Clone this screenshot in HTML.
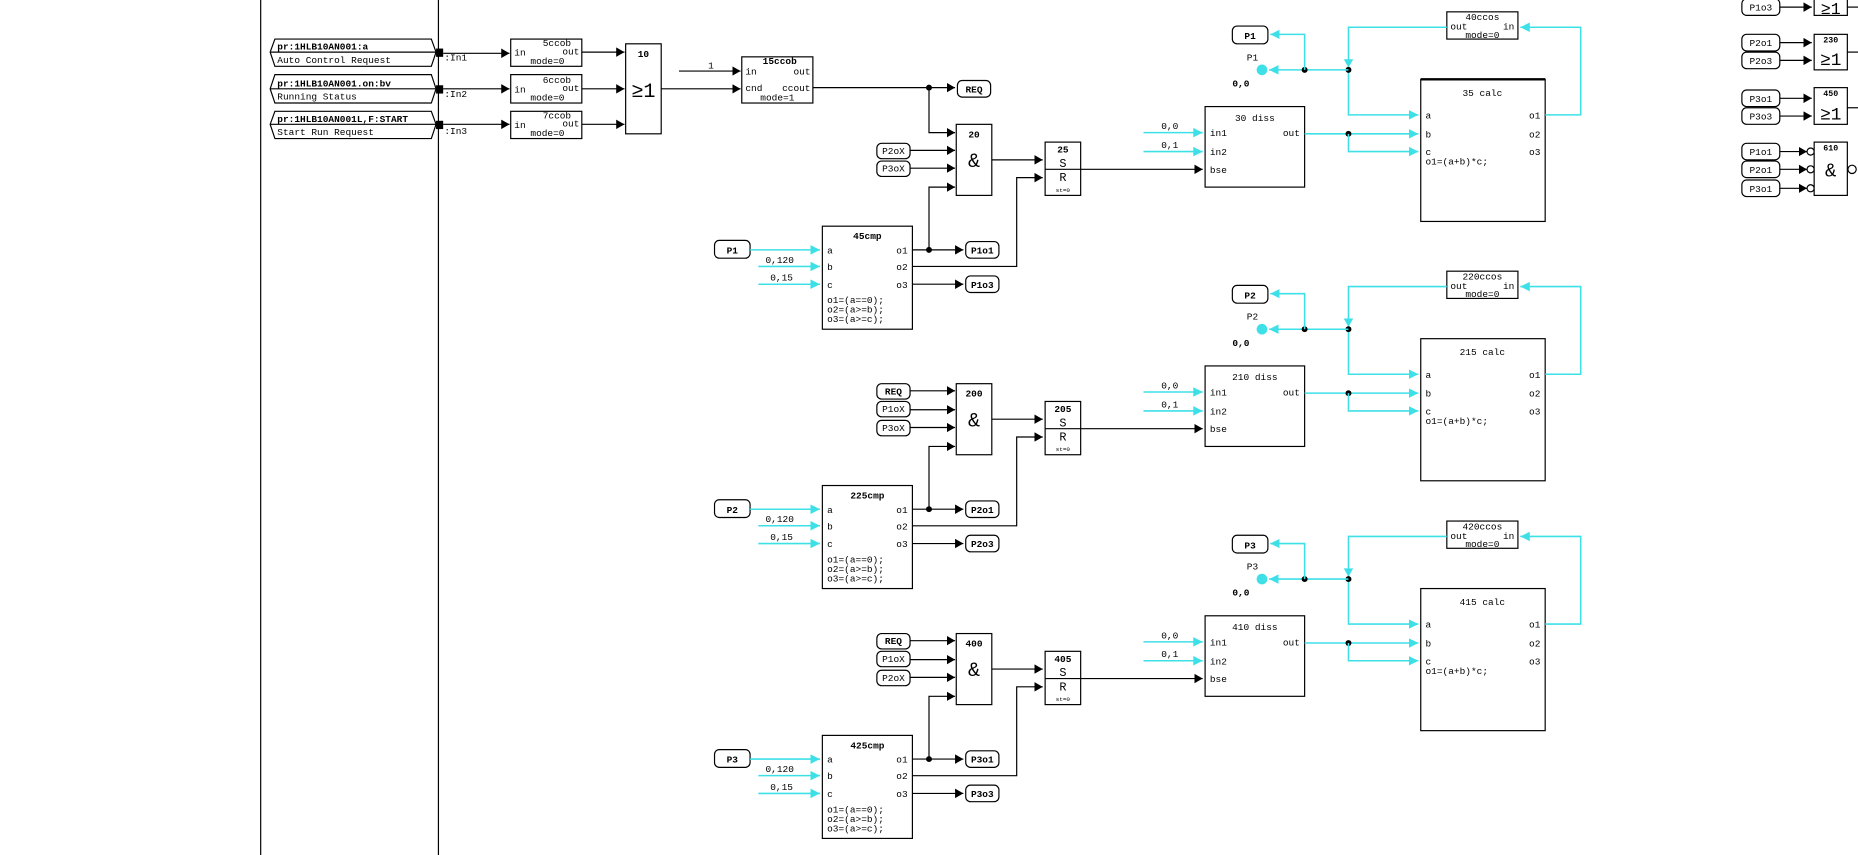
<!DOCTYPE html>
<html><head><meta charset="utf-8"><style>
html,body{margin:0;padding:0;background:#fff;}
svg{display:block;}
text{font-family:"Liberation Mono",monospace;font-size:8px;fill:#000;}
.b{font-weight:bold;}
.c{text-anchor:middle;}
.r{text-anchor:end;}
.k{stroke:#000;stroke-width:1;fill:none;}
.y{stroke:#3ee0e8;stroke-width:1.3;fill:none;}
.bx{stroke:#000;stroke-width:1;fill:#fff;}
.tg{stroke:#000;stroke-width:1;fill:#fff;}
</style></head><body>
<svg width="1858" height="855" viewBox="0 0 1568 722" preserveAspectRatio="none" xmlns="http://www.w3.org/2000/svg">
<defs>
<marker id="ak" markerUnits="userSpaceOnUse" markerWidth="8" markerHeight="8" refX="7" refY="4" orient="auto"><path d="M0,0 L7,4 L0,8 z" fill="#000"/></marker>
<marker id="ay" markerUnits="userSpaceOnUse" markerWidth="9" markerHeight="8" refX="8" refY="4" orient="auto"><path d="M0,0 L8,4 L0,8 z" fill="#3ee0e8"/></marker>
</defs>
<rect width="1568" height="722" fill="#fff"/>
<line x1="220" y1="0" x2="220" y2="722" class="k"/>
<line x1="370" y1="0" x2="370" y2="722" class="k"/>

<!-- input tags -->
<g>
<path d="M232,33 L364,33 L368,44 L364,56 L232,56 L228,44 Z" class="tg"/><line x1="228" y1="44" x2="368" y2="44" class="k"/>
<text x="234" y="42" class="b">pr:1HLB10AN001:a</text><text x="234" y="53">Auto Control Request</text>
<path d="M232,63 L364,63 L368,75 L364,87 L232,87 L228,75 Z" class="tg"/><line x1="228" y1="75" x2="368" y2="75" class="k"/>
<text x="234" y="73" class="b">pr:1HLB10AN001.on:bv</text><text x="234" y="84">Running Status</text>
<path d="M232,94 L364,94 L368,105 L364,117 L232,117 L228,105 Z" class="tg"/><line x1="228" y1="105" x2="368" y2="105" class="k"/>
<text x="234" y="103" class="b">pr:1HLB10AN001L,F:START</text><text x="234" y="114">Start Run Request</text>
<rect x="368" y="41" width="6" height="7" fill="#000"/><rect x="368" y="72" width="6" height="7" fill="#000"/><rect x="368" y="102" width="6" height="7" fill="#000"/>
<text x="375" y="51">:In1</text><text x="375" y="82">:In2</text><text x="375" y="113">:In3</text>
<line x1="374" y1="45" x2="430" y2="45" class="k" marker-end="url(#ak)"/>
<line x1="374" y1="75" x2="430" y2="75" class="k" marker-end="url(#ak)"/>
<line x1="374" y1="105" x2="430" y2="105" class="k" marker-end="url(#ak)"/>
<rect x="431" y="33" width="60" height="23" class="bx"/><text x="470" y="39" class="c">5ccob</text><text x="434" y="47">in</text><text x="489" y="46" class="r">out</text><text x="462" y="54" class="c">mode=0</text>
<rect x="431" y="63" width="60" height="24" class="bx"/><text x="470" y="70" class="c">6ccob</text><text x="434" y="78">in</text><text x="489" y="77" class="r">out</text><text x="462" y="85" class="c">mode=0</text>
<rect x="431" y="94" width="60" height="23" class="bx"/><text x="470" y="100" class="c">7ccob</text><text x="434" y="108">in</text><text x="489" y="107" class="r">out</text><text x="462" y="115" class="c">mode=0</text>
<line x1="491" y1="44" x2="527" y2="44" class="k" marker-end="url(#ak)"/>
<line x1="491" y1="75" x2="527" y2="75" class="k" marker-end="url(#ak)"/>
<line x1="491" y1="105" x2="527" y2="105" class="k" marker-end="url(#ak)"/>
<rect x="528" y="37" width="30" height="76" class="bx"/><text x="543" y="48" class="c b">10</text><text x="543" y="82" class="c" style="font-size:17px">≥1</text>
<line x1="558" y1="75" x2="625" y2="75" class="k" marker-end="url(#ak)"/>
<line x1="573" y1="60" x2="625" y2="60" class="k" marker-end="url(#ak)"/><text x="600" y="58" class="c">1</text>
<rect x="626" y="48" width="60" height="39" class="bx"/><text x="658" y="54" class="c b">15ccob</text><text x="629" y="63">in</text><text x="684" y="63" class="r">out</text><text x="629" y="77">cnd</text><text x="684" y="77" class="r">ccout</text><text x="656" y="85" class="c">mode=1</text>
<line x1="686" y1="74" x2="806" y2="74" class="k" marker-end="url(#ak)"/>
<rect x="808" y="68" width="28" height="14" rx="4" class="tg"/><text x="822" y="78" class="c b">REQ</text>
<circle cx="784" cy="74" r="2.5" fill="#000"/>
<polyline points="784,74 784,112 806,112" class="k" marker-end="url(#ak)"/>
<line x1="768" y1="127" x2="806" y2="127" class="k" marker-end="url(#ak)"/>
<line x1="768" y1="142" x2="806" y2="142" class="k" marker-end="url(#ak)"/>
<rect x="740" y="121" width="28" height="13" rx="4" class="tg"/><text x="754" y="130" class="c">P2oX</text>
<rect x="740" y="136" width="28" height="13" rx="4" class="tg"/><text x="754" y="145" class="c">P3oX</text>
</g>

<!-- row 2 / 3 specific tags -->
<g>
<rect x="740" y="324" width="28" height="13" rx="4" class="tg"/><text x="754" y="333" class="c b">REQ</text>
<rect x="740" y="339" width="28" height="13" rx="4" class="tg"/><text x="754" y="348" class="c">P1oX</text>
<rect x="740" y="355" width="28" height="13" rx="4" class="tg"/><text x="754" y="364" class="c">P3oX</text>
<line x1="768" y1="330" x2="806" y2="330" class="k" marker-end="url(#ak)"/>
<line x1="768" y1="346" x2="806" y2="346" class="k" marker-end="url(#ak)"/>
<line x1="768" y1="361" x2="806" y2="361" class="k" marker-end="url(#ak)"/>
<rect x="740" y="535" width="28" height="13" rx="4" class="tg"/><text x="754" y="544" class="c b">REQ</text>
<rect x="740" y="550" width="28" height="13" rx="4" class="tg"/><text x="754" y="559" class="c">P1oX</text>
<rect x="740" y="566" width="28" height="13" rx="4" class="tg"/><text x="754" y="575" class="c">P2oX</text>
<line x1="768" y1="541" x2="806" y2="541" class="k" marker-end="url(#ak)"/>
<line x1="768" y1="557" x2="806" y2="557" class="k" marker-end="url(#ak)"/>
<line x1="768" y1="572" x2="806" y2="572" class="k" marker-end="url(#ak)"/>
</g>

<!-- ROW 1 -->
<g>
<rect x="807" y="105" width="30" height="60" class="bx"/><text x="822" y="116" class="c b">20</text><text x="822" y="141" class="c" style="font-size:17px">&amp;</text>
<rect x="694" y="191" width="76" height="87" class="bx"/><text x="732" y="202" class="c b">45cmp</text>
<text x="698" y="214">a</text><text x="698" y="228">b</text><text x="698" y="243">c</text>
<text x="766" y="214" class="r">o1</text><text x="766" y="228" class="r">o2</text><text x="766" y="243" class="r">o3</text>
<text x="698" y="256">o1=(a==0);</text><text x="698" y="264">o2=(a&gt;=b);</text><text x="698" y="272">o3=(a&gt;=c);</text>
<rect x="603" y="203" width="30" height="15" rx="4" class="tg"/><text x="618" y="214" class="c b">P1</text>
<line x1="633" y1="211" x2="692" y2="211" class="y" marker-end="url(#ay)"/>
<line x1="640" y1="225" x2="692" y2="225" class="y" marker-end="url(#ay)"/><text x="646" y="222">0,120</text>
<line x1="640" y1="240" x2="692" y2="240" class="y" marker-end="url(#ay)"/><text x="650" y="237">0,15</text>
<line x1="770" y1="211" x2="813" y2="211" class="k" marker-end="url(#ak)"/><circle cx="784" cy="211" r="2.5" fill="#000"/>
<polyline points="784,211 784,158 806,158" class="k" marker-end="url(#ak)"/>
<rect x="815" y="204" width="28" height="14" rx="4" class="tg"/><text x="829" y="214" class="c b">P1o1</text>
<polyline points="770,225 858,225 858,150 880,150" class="k" marker-end="url(#ak)"/>
<line x1="770" y1="240" x2="813" y2="240" class="k" marker-end="url(#ak)"/>
<rect x="815" y="233" width="28" height="14" rx="4" class="tg"/><text x="829" y="243" class="c b">P1o3</text>
<line x1="837" y1="135" x2="880" y2="135" class="k" marker-end="url(#ak)"/>
<rect x="882" y="120" width="30" height="45" class="bx"/><text x="897" y="129" class="c b">25</text><text x="897" y="141" class="c" style="font-size:10px">S</text><text x="897" y="153" class="c" style="font-size:10px">R</text><text x="897" y="162" class="c" style="font-size:5px">st=0</text>
<line x1="882" y1="143" x2="1015" y2="143" class="k" marker-end="url(#ak)"/>
<rect x="1017" y="90" width="84" height="68" class="bx"/><text x="1059" y="102" class="c">30 diss</text>
<text x="1021" y="115">in1</text><text x="1021" y="131">in2</text><text x="1021" y="146">bse</text><text x="1097" y="115" class="r">out</text>
<line x1="965" y1="112" x2="1015" y2="112" class="y" marker-end="url(#ay)"/><text x="980" y="109">0,0</text>
<line x1="965" y1="128" x2="1015" y2="128" class="y" marker-end="url(#ay)"/><text x="980" y="125">0,1</text>
<line x1="1101" y1="113" x2="1197" y2="113" class="y" marker-end="url(#ay)"/><circle cx="1138" cy="113" r="2.5" fill="#000"/>
<polyline points="1138,113 1138,128 1197,128" class="y" marker-end="url(#ay)"/>
<rect x="1199" y="67" width="105" height="120" class="bx"/><line x1="1199" y1="67" x2="1304" y2="67" stroke="#000" stroke-width="2"/>
<text x="1251" y="81" class="c">35 calc</text>
<text x="1203" y="100">a</text><text x="1203" y="116">b</text><text x="1203" y="131">c</text><text x="1203" y="139">o1=(a+b)*c;</text>
<text x="1300" y="100" class="r">o1</text><text x="1300" y="116" class="r">o2</text><text x="1300" y="131" class="r">o3</text>
<polyline points="1304,97 1334,97 1334,23 1283,23" class="y" marker-end="url(#ay)"/>
<rect x="1221" y="10" width="60" height="23" class="bx"/><text x="1251" y="17" class="c">40ccos</text><text x="1224" y="25">out</text><text x="1278" y="25" class="r">in</text><text x="1251" y="32" class="c">mode=0</text>
<polyline points="1221,23 1138,23 1138,97 1197,97" class="y" marker-end="url(#ay)"/>
<path d="M1134,50 L1142,50 L1138,57 z" fill="#3ee0e8"/>
<circle cx="1138" cy="59" r="2.5" fill="#000"/>
<line x1="1138" y1="59" x2="1071" y2="59" class="y" marker-end="url(#ay)"/>
<circle cx="1101" cy="59" r="2.5" fill="#000"/>
<polyline points="1101,59 1101,29 1072,29" class="y" marker-end="url(#ay)"/>
<circle cx="1065" cy="59" r="4.5" fill="#3ee0e8"/>
<rect x="1040" y="22" width="30" height="15" rx="4" class="tg"/><text x="1055" y="33" class="c b">P1</text>
<text x="1057" y="51" class="c">P1</text><text x="1040" y="73" class="b">0,0</text>
</g>

<!-- ROW 2 -->
<g transform="translate(0,219)">
<rect x="807" y="105" width="30" height="60" class="bx"/><text x="822" y="116" class="c b">200</text><text x="822" y="141" class="c" style="font-size:17px">&amp;</text>
<rect x="694" y="191" width="76" height="87" class="bx"/><text x="732" y="202" class="c b">225cmp</text>
<text x="698" y="214">a</text><text x="698" y="228">b</text><text x="698" y="243">c</text>
<text x="766" y="214" class="r">o1</text><text x="766" y="228" class="r">o2</text><text x="766" y="243" class="r">o3</text>
<text x="698" y="256">o1=(a==0);</text><text x="698" y="264">o2=(a&gt;=b);</text><text x="698" y="272">o3=(a&gt;=c);</text>
<rect x="603" y="203" width="30" height="15" rx="4" class="tg"/><text x="618" y="214" class="c b">P2</text>
<line x1="633" y1="211" x2="692" y2="211" class="y" marker-end="url(#ay)"/>
<line x1="640" y1="225" x2="692" y2="225" class="y" marker-end="url(#ay)"/><text x="646" y="222">0,120</text>
<line x1="640" y1="240" x2="692" y2="240" class="y" marker-end="url(#ay)"/><text x="650" y="237">0,15</text>
<line x1="770" y1="211" x2="813" y2="211" class="k" marker-end="url(#ak)"/><circle cx="784" cy="211" r="2.5" fill="#000"/>
<polyline points="784,211 784,158 806,158" class="k" marker-end="url(#ak)"/>
<rect x="815" y="204" width="28" height="14" rx="4" class="tg"/><text x="829" y="214" class="c b">P2o1</text>
<polyline points="770,225 858,225 858,150 880,150" class="k" marker-end="url(#ak)"/>
<line x1="770" y1="240" x2="813" y2="240" class="k" marker-end="url(#ak)"/>
<rect x="815" y="233" width="28" height="14" rx="4" class="tg"/><text x="829" y="243" class="c b">P2o3</text>
<line x1="837" y1="135" x2="880" y2="135" class="k" marker-end="url(#ak)"/>
<rect x="882" y="120" width="30" height="45" class="bx"/><text x="897" y="129" class="c b">205</text><text x="897" y="141" class="c" style="font-size:10px">S</text><text x="897" y="153" class="c" style="font-size:10px">R</text><text x="897" y="162" class="c" style="font-size:5px">st=0</text>
<line x1="882" y1="143" x2="1015" y2="143" class="k" marker-end="url(#ak)"/>
<rect x="1017" y="90" width="84" height="68" class="bx"/><text x="1059" y="102" class="c">210 diss</text>
<text x="1021" y="115">in1</text><text x="1021" y="131">in2</text><text x="1021" y="146">bse</text><text x="1097" y="115" class="r">out</text>
<line x1="965" y1="112" x2="1015" y2="112" class="y" marker-end="url(#ay)"/><text x="980" y="109">0,0</text>
<line x1="965" y1="128" x2="1015" y2="128" class="y" marker-end="url(#ay)"/><text x="980" y="125">0,1</text>
<line x1="1101" y1="113" x2="1197" y2="113" class="y" marker-end="url(#ay)"/><circle cx="1138" cy="113" r="2.5" fill="#000"/>
<polyline points="1138,113 1138,128 1197,128" class="y" marker-end="url(#ay)"/>
<rect x="1199" y="67" width="105" height="120" class="bx"/>
<text x="1251" y="81" class="c">215 calc</text>
<text x="1203" y="100">a</text><text x="1203" y="116">b</text><text x="1203" y="131">c</text><text x="1203" y="139">o1=(a+b)*c;</text>
<text x="1300" y="100" class="r">o1</text><text x="1300" y="116" class="r">o2</text><text x="1300" y="131" class="r">o3</text>
<polyline points="1304,97 1334,97 1334,23 1283,23" class="y" marker-end="url(#ay)"/>
<rect x="1221" y="10" width="60" height="23" class="bx"/><text x="1251" y="17" class="c">220ccos</text><text x="1224" y="25">out</text><text x="1278" y="25" class="r">in</text><text x="1251" y="32" class="c">mode=0</text>
<polyline points="1221,23 1138,23 1138,97 1197,97" class="y" marker-end="url(#ay)"/>
<path d="M1134,50 L1142,50 L1138,57 z" fill="#3ee0e8"/>
<circle cx="1138" cy="59" r="2.5" fill="#000"/>
<line x1="1138" y1="59" x2="1071" y2="59" class="y" marker-end="url(#ay)"/>
<circle cx="1101" cy="59" r="2.5" fill="#000"/>
<polyline points="1101,59 1101,29 1072,29" class="y" marker-end="url(#ay)"/>
<circle cx="1065" cy="59" r="4.5" fill="#3ee0e8"/>
<rect x="1040" y="22" width="30" height="15" rx="4" class="tg"/><text x="1055" y="33" class="c b">P2</text>
<text x="1057" y="51" class="c">P2</text><text x="1040" y="73" class="b">0,0</text>
</g>

<!-- ROW 3 -->
<g transform="translate(0,430)">
<rect x="807" y="105" width="30" height="60" class="bx"/><text x="822" y="116" class="c b">400</text><text x="822" y="141" class="c" style="font-size:17px">&amp;</text>
<rect x="694" y="191" width="76" height="87" class="bx"/><text x="732" y="202" class="c b">425cmp</text>
<text x="698" y="214">a</text><text x="698" y="228">b</text><text x="698" y="243">c</text>
<text x="766" y="214" class="r">o1</text><text x="766" y="228" class="r">o2</text><text x="766" y="243" class="r">o3</text>
<text x="698" y="256">o1=(a==0);</text><text x="698" y="264">o2=(a&gt;=b);</text><text x="698" y="272">o3=(a&gt;=c);</text>
<rect x="603" y="203" width="30" height="15" rx="4" class="tg"/><text x="618" y="214" class="c b">P3</text>
<line x1="633" y1="211" x2="692" y2="211" class="y" marker-end="url(#ay)"/>
<line x1="640" y1="225" x2="692" y2="225" class="y" marker-end="url(#ay)"/><text x="646" y="222">0,120</text>
<line x1="640" y1="240" x2="692" y2="240" class="y" marker-end="url(#ay)"/><text x="650" y="237">0,15</text>
<line x1="770" y1="211" x2="813" y2="211" class="k" marker-end="url(#ak)"/><circle cx="784" cy="211" r="2.5" fill="#000"/>
<polyline points="784,211 784,158 806,158" class="k" marker-end="url(#ak)"/>
<rect x="815" y="204" width="28" height="14" rx="4" class="tg"/><text x="829" y="214" class="c b">P3o1</text>
<polyline points="770,225 858,225 858,150 880,150" class="k" marker-end="url(#ak)"/>
<line x1="770" y1="240" x2="813" y2="240" class="k" marker-end="url(#ak)"/>
<rect x="815" y="233" width="28" height="14" rx="4" class="tg"/><text x="829" y="243" class="c b">P3o3</text>
<line x1="837" y1="135" x2="880" y2="135" class="k" marker-end="url(#ak)"/>
<rect x="882" y="120" width="30" height="45" class="bx"/><text x="897" y="129" class="c b">405</text><text x="897" y="141" class="c" style="font-size:10px">S</text><text x="897" y="153" class="c" style="font-size:10px">R</text><text x="897" y="162" class="c" style="font-size:5px">st=0</text>
<line x1="882" y1="143" x2="1015" y2="143" class="k" marker-end="url(#ak)"/>
<rect x="1017" y="90" width="84" height="68" class="bx"/><text x="1059" y="102" class="c">410 diss</text>
<text x="1021" y="115">in1</text><text x="1021" y="131">in2</text><text x="1021" y="146">bse</text><text x="1097" y="115" class="r">out</text>
<line x1="965" y1="112" x2="1015" y2="112" class="y" marker-end="url(#ay)"/><text x="980" y="109">0,0</text>
<line x1="965" y1="128" x2="1015" y2="128" class="y" marker-end="url(#ay)"/><text x="980" y="125">0,1</text>
<line x1="1101" y1="113" x2="1197" y2="113" class="y" marker-end="url(#ay)"/><circle cx="1138" cy="113" r="2.5" fill="#000"/>
<polyline points="1138,113 1138,128 1197,128" class="y" marker-end="url(#ay)"/>
<rect x="1199" y="67" width="105" height="120" class="bx"/>
<text x="1251" y="81" class="c">415 calc</text>
<text x="1203" y="100">a</text><text x="1203" y="116">b</text><text x="1203" y="131">c</text><text x="1203" y="139">o1=(a+b)*c;</text>
<text x="1300" y="100" class="r">o1</text><text x="1300" y="116" class="r">o2</text><text x="1300" y="131" class="r">o3</text>
<polyline points="1304,97 1334,97 1334,23 1283,23" class="y" marker-end="url(#ay)"/>
<rect x="1221" y="10" width="60" height="23" class="bx"/><text x="1251" y="17" class="c">420ccos</text><text x="1224" y="25">out</text><text x="1278" y="25" class="r">in</text><text x="1251" y="32" class="c">mode=0</text>
<polyline points="1221,23 1138,23 1138,97 1197,97" class="y" marker-end="url(#ay)"/>
<path d="M1134,50 L1142,50 L1138,57 z" fill="#3ee0e8"/>
<circle cx="1138" cy="59" r="2.5" fill="#000"/>
<line x1="1138" y1="59" x2="1071" y2="59" class="y" marker-end="url(#ay)"/>
<circle cx="1101" cy="59" r="2.5" fill="#000"/>
<polyline points="1101,59 1101,29 1072,29" class="y" marker-end="url(#ay)"/>
<circle cx="1065" cy="59" r="4.5" fill="#3ee0e8"/>
<rect x="1040" y="22" width="30" height="15" rx="4" class="tg"/><text x="1055" y="33" class="c b">P3</text>
<text x="1057" y="51" class="c">P3</text><text x="1040" y="73" class="b">0,0</text>
</g>

<!-- right column -->
<g>
<rect x="1470" y="-1" width="32" height="14" rx="4" class="tg"/><text x="1486" y="9" class="c">P1o3</text>
<line x1="1502" y1="6" x2="1529" y2="6" class="k" marker-end="url(#ak)"/>
<rect x="1531" y="-2" width="28" height="15" class="bx"/><text x="1545" y="12" class="c" style="font-size:14px">≥1</text>
<line x1="1559" y1="6" x2="1568" y2="6" class="k"/>

<rect x="1470" y="29" width="32" height="14" rx="4" class="tg"/><text x="1486" y="39" class="c">P2o1</text>
<rect x="1470" y="44" width="32" height="14" rx="4" class="tg"/><text x="1486" y="54" class="c">P2o3</text>
<line x1="1502" y1="36" x2="1529" y2="36" class="k" marker-end="url(#ak)"/>
<line x1="1502" y1="51" x2="1529" y2="51" class="k" marker-end="url(#ak)"/>
<rect x="1531" y="29" width="28" height="30" class="bx"/><text x="1545" y="36" class="c b" style="font-size:7px">230</text><text x="1545" y="55" class="c" style="font-size:15px">≥1</text>
<line x1="1559" y1="44" x2="1568" y2="44" class="k"/>

<rect x="1470" y="76" width="32" height="14" rx="4" class="tg"/><text x="1486" y="86" class="c">P3o1</text>
<rect x="1470" y="91" width="32" height="14" rx="4" class="tg"/><text x="1486" y="101" class="c">P3o3</text>
<line x1="1502" y1="83" x2="1529" y2="83" class="k" marker-end="url(#ak)"/>
<line x1="1502" y1="98" x2="1529" y2="98" class="k" marker-end="url(#ak)"/>
<rect x="1531" y="74" width="28" height="31" class="bx"/><text x="1545" y="81" class="c b" style="font-size:7px">450</text><text x="1545" y="101" class="c" style="font-size:15px">≥1</text>
<line x1="1559" y1="91" x2="1568" y2="91" class="k"/>

<rect x="1470" y="121" width="32" height="14" rx="4" class="tg"/><text x="1486" y="131" class="c">P1o1</text>
<rect x="1470" y="136" width="32" height="14" rx="4" class="tg"/><text x="1486" y="146" class="c">P2o1</text>
<rect x="1470" y="152" width="32" height="14" rx="4" class="tg"/><text x="1486" y="162" class="c">P3o1</text>
<line x1="1502" y1="128" x2="1525" y2="128" class="k" marker-end="url(#ak)"/>
<line x1="1502" y1="143" x2="1525" y2="143" class="k" marker-end="url(#ak)"/>
<line x1="1502" y1="159" x2="1525" y2="159" class="k" marker-end="url(#ak)"/>
<circle cx="1528" cy="128" r="3" fill="#fff" stroke="#000"/><circle cx="1528" cy="143" r="3" fill="#fff" stroke="#000"/><circle cx="1528" cy="159" r="3" fill="#fff" stroke="#000"/>
<rect x="1531" y="120" width="28" height="45" class="bx"/><text x="1545" y="127" class="c b" style="font-size:7px">610</text><text x="1545" y="149" class="c" style="font-size:16px">&amp;</text>
<circle cx="1563" cy="143" r="3.5" fill="#fff" stroke="#000"/>
</g>
</svg>
</body></html>
